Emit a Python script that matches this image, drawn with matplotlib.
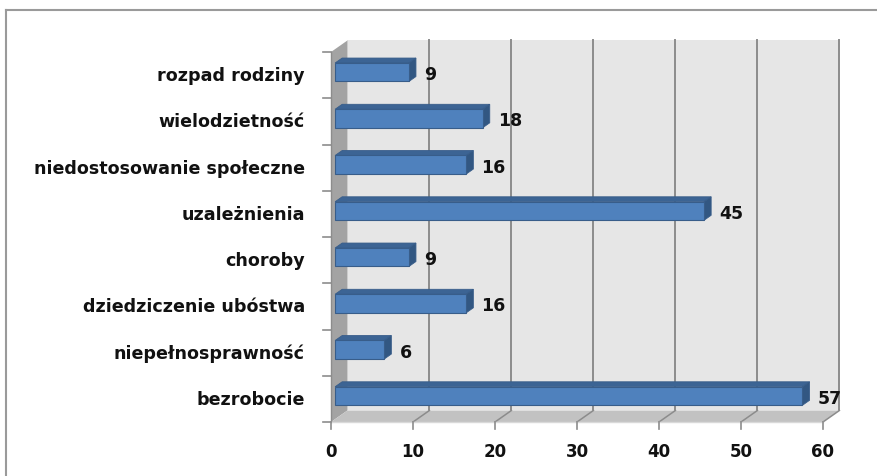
import matplotlib
matplotlib.use("Agg")
import matplotlib.pyplot as plt
from matplotlib.patches import Polygon
from matplotlib.lines import Line2D

# -------- data (top to bottom as shown) --------
categories = ["rozpad rodziny", "wielodzietność", "niedostosowanie społeczne",
              "uzależnienia", "choroby", "dziedziczenie ubóstwa",
              "niepełnosprawność", "bezrobocie"]
values = [9, 18, 16, 45, 9, 16, 6, 57]
xticks = [0, 10, 20, 30, 40, 50, 60]

# -------- 3D look settings --------
W, H, DPI = 8.77, 4.77, 100
DX, DY = 2.0, 0.249           # depth offset (value units, category units)
BAR_D0, BAR_D1 = 0.25, 0.68   # bar depth span
BAR_H = 0.40                  # bar thickness in category units
XMAX = 60

wall_c = "#e6e6e6"
side_c = "#a3a3a3"
floor_c = "#c2c2c2"
grid_c = "#8c8c8c"
face_c = "#4f81bd"
top_c = "#3c6494"
end_c = "#325782"
edge_c = "#385d8a"


def P(v, c, d):
    return (v + d * DX, c + d * DY)


fig = plt.figure(figsize=(W, H), dpi=DPI)
ax = fig.add_axes([0, 0, 1, 1])
ax.axis("off")
# map so that 1 value unit ~ 8.2 px and 1 category ~ 46.25 px
ax.set_xlim(-331 / 8.2, (877 - 331) / 8.2)
ax.set_ylim(-(477 - 423) / 46.25, 8 + 53 / 46.25)

n = len(categories)

# back wall
ax.add_patch(Polygon([P(0, 0, 1), P(XMAX, 0, 1), P(XMAX, n, 1), P(0, n, 1)],
                     closed=True, facecolor=wall_c, edgecolor="none", zorder=1))
# left wall
ax.add_patch(Polygon([P(0, 0, 0), P(0, 0, 1), P(0, n, 1), P(0, n, 0)],
                     closed=True, facecolor=side_c, edgecolor="none", zorder=2))
# floor
ax.add_patch(Polygon([P(0, 0, 0), P(XMAX, 0, 0), P(XMAX, 0, 1), P(0, 0, 1)],
                     closed=True, facecolor=floor_c, edgecolor="none", zorder=2))

# gridlines on wall and floor
for t in xticks[1:]:
    x0, y0 = P(t, 0, 1)
    x1, y1 = P(t, n, 1)
    ax.plot([x0, x1], [y0, y1], color=grid_c, lw=1.4, zorder=1.5)
    xa, ya = P(t, 0, 0)
    ax.plot([xa, x0], [ya, y0], color=grid_c, lw=1.1, zorder=2.5)

# axis lines
ax.plot(*zip(P(0, 0, 0), P(0, n, 0)), color=grid_c, lw=1.0, zorder=3)
ax.plot(*zip(P(0, 0, 0), P(XMAX, 0, 0)), color="#d9d9d9", lw=1.0, zorder=3)

# category ticks
for i in range(n + 1):
    x0, y0 = P(0, i, 0)
    ax.plot([x0 - 1.0, x0], [y0, y0], color=grid_c, lw=1.2, zorder=3)

# value ticks + labels
for t in xticks:
    x0, y0 = P(t, 0, 0)
    ax.plot([x0, x0], [y0, y0 - 0.15], color=grid_c, lw=1.2, zorder=3)
    ax.text(x0, y0 - 0.62, str(t), ha="center", va="center",
            fontsize=12, fontweight="bold", color="#111111")

# bars
for k, (lab, v) in enumerate(zip(categories, values)):
    c = n - 1 - k + 0.5
    lo, hi = c - BAR_H / 2, c + BAR_H / 2
    top = [P(0, hi, BAR_D0), P(v, hi, BAR_D0), P(v, hi, BAR_D1), P(0, hi, BAR_D1)]
    end = [P(v, lo, BAR_D0), P(v, hi, BAR_D0), P(v, hi, BAR_D1), P(v, lo, BAR_D1)]
    front = [P(0, lo, BAR_D0), P(v, lo, BAR_D0), P(v, hi, BAR_D0), P(0, hi, BAR_D0)]
    ax.add_patch(Polygon(top, closed=True, facecolor=top_c, edgecolor=edge_c, lw=0.6, zorder=4))
    ax.add_patch(Polygon(end, closed=True, facecolor=end_c, edgecolor=edge_c, lw=0.6, zorder=4))
    ax.add_patch(Polygon(front, closed=True, facecolor=face_c, edgecolor=edge_c, lw=0.8, zorder=5))

    lx, ly = P(v, c, BAR_D1)
    ax.text(lx + 1.0, c + 0.02, str(v), ha="left", va="center",
            fontsize=12.5, fontweight="bold", color="#111111", zorder=6)

    tx, ty = P(0, c, 0)
    ax.text(tx - 3.2, ty, lab, ha="right", va="center",
            fontsize=12.6, fontweight="bold", color="#111111")

# outer chart border (only top and left visible)
fig.add_artist(Line2D([6 / 877, 1.0], [1 - 11 / 477, 1 - 11 / 477],
                      transform=fig.transFigure, color="#9a9a9a", lw=1.5))
fig.add_artist(Line2D([6 / 877, 6 / 877], [0, 1 - 11 / 477],
                      transform=fig.transFigure, color="#9a9a9a", lw=1.5))

fig.savefig("out.png", dpi=DPI)
